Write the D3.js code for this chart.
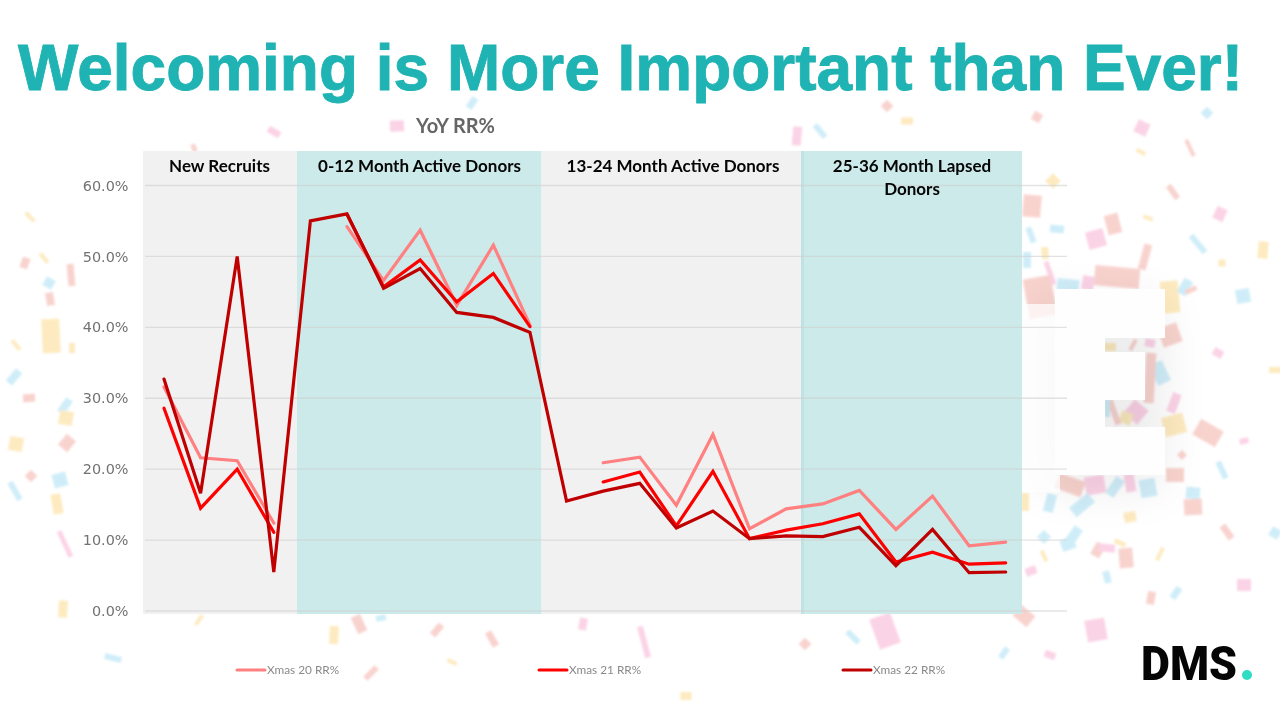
<!DOCTYPE html>
<html>
<head>
<meta charset="utf-8">
<script src="https://cdn.jsdelivr.net/npm/d3@7"></script>
<style>
  html, body { margin: 0; padding: 0; background: #fff; }
  svg { display: block; }
</style>
</head>
<body>
<svg id="chart" width="1280" height="720"></svg>
<script>
// 24 unlabelled points on the x axis
const categories = d3.range(24);
const xmas20 = [31.6, 21.6, 21.2, 12.4, null, 54.2, 46.6, 53.7, 43.1, 51.6, 40.3, null, 20.9, 21.7, 14.9, 24.9, 11.6, 14.4, 15.1, 17.0, 11.5, 16.2, 9.2, 9.7];
const xmas21 = [28.6, 14.5, 20.0, 11.1, null, 55.9, 45.7, 49.5, 43.6, 47.6, 40.1, null, 18.2, 19.6, 12.0, 19.7, 10.2, 11.4, 12.3, 13.7, 6.9, 8.3, 6.6, 6.8];
const xmas22 = [32.7, 16.6, 50.0, 5.5, 55.0, 56.0, 45.5, 48.3, 42.1, 41.4, 39.3, 15.5, 16.9, 18.0, 11.7, 14.1, 10.2, 10.6, 10.5, 11.8, 6.4, 11.5, 5.4, 5.5];
const seriesNames = ['Xmas 20 RR%', 'Xmas 21 RR%', 'Xmas 22 RR%'];
const seriesColors = ['#ff8080', '#ff0000', '#c00000'];
const yTicks = [0, 10, 20, 30, 40, 50, 60];
const panelLabels = [['New Recruits'], ['0-12 Month Active Donors'], ['13-24 Month Active Donors'], ['25-36 Month Lapsed', 'Donors']];

// background decoration: cx, cy, w, h, rotation, colour
const confetti = [
  [30,217,12,4,45,'y'],[25,263,8,11,20,'s'],[44,258,12,4,50,'y'],[49,283,10,10,30,'b'],[50,299,8,13,-10,'s'],
  [71,275,7,22,-5,'s'],[51,336,18,34,-3,'y'],[72,348,6,10,0,'y'],[16,345,12,4,50,'y'],[14,377,8,16,40,'b'],
  [29,398,12,8,-5,'s'],[65,406,8,16,35,'b'],[66,418,14,14,10,'y'],[16,444,14,14,10,'y'],[67,443,12,14,40,'s'],
  [31,476,9,9,45,'s'],[60,480,14,14,-15,'b'],[15,491,6,20,-30,'b'],[57,504,10,20,-10,'y'],[65,544,5,28,-25,'p'],
  [63,609,9,17,4,'y'],[113,658,17,6,15,'b'],[472,103,7,12,35,'b'],[397,126,14,11,-3,'p'],[274,132,13,7,30,'p'],
  [194,148,5,8,-20,'s'],[887,106,9,9,45,'s'],[907,121,12,7,0,'y'],[797,136,9,19,5,'p'],[820,131,6,16,-40,'b'],
  [1037,117,9,9,30,'s'],[1142,128,13,13,25,'p'],[1207,113,9,9,45,'b'],[1190,148,4,18,-25,'s'],[1141,152,10,4,30,'y'],
  [1053,181,11,11,45,'y'],[1173,192,6,16,-35,'s'],[1032,206,18,22,5,'s'],[1220,214,11,13,25,'p'],[1113,224,14,20,-15,'s'],
  [1096,239,18,18,-15,'p'],[1148,218,10,4,20,'y'],[1031,235,6,16,-20,'b'],[1057,229,14,8,5,'b'],[1045,253,7,12,-5,'y'],
  [1198,244,6,22,-40,'b'],[1263,250,10,17,5,'y'],[1222,263,7,7,0,'y'],[1145,257,8,26,15,'s'],[1027,260,8,16,0,'b'],
  [1243,296,14,14,-10,'b'],[1117,277,45,20,5,'s'],[1050,273,5,24,-20,'p'],[1068,285,22,12,5,'b'],[1088,283,12,14,10,'p'],
  [1040,297,28,40,-10,'s'],[1170,297,18,32,-5,'y'],[1185,287,10,16,30,'b'],[1191,290,12,5,-25,'s'],[1170,335,20,20,-20,'s'],
  [1218,353,10,8,30,'p'],[1275,370,12,6,0,'y'],[1160,373,14,22,-25,'b'],[1150,378,10,50,3,'s'],[1174,403,9,20,20,'p'],
  [1174,425,22,20,-15,'y'],[1208,433,26,18,30,'s'],[1244,441,9,6,-15,'p'],[1182,455,7,7,45,'s'],[1222,470,6,18,-25,'b'],
  [1175,475,18,14,0,'s'],[1193,493,14,12,5,'b'],[1193,507,18,16,-3,'s'],[1148,488,16,18,-10,'b'],[1130,483,10,18,-10,'p'],
  [1095,485,20,18,-10,'p'],[1115,487,10,20,35,'b'],[1070,485,28,16,20,'s'],[1082,505,12,24,50,'b'],[1050,503,10,18,15,'b'],
  [1130,517,12,10,-10,'y'],[1227,532,7,16,-35,'s'],[1275,533,10,10,30,'b'],[1072,538,10,24,35,'b'],[1044,537,10,10,45,'b'],
  [1025,502,8,18,0,'y'],[199,620,4,12,35,'y'],[334,635,9,18,3,'y'],[359,624,10,18,-25,'s'],[381,618,10,6,-10,'b'],
  [437,630,7,14,40,'s'],[492,639,7,16,-30,'s'],[371,673,6,16,45,'s'],[452,662,10,4,25,'y'],[583,624,8,12,10,'p'],
  [644,642,6,32,-15,'p'],[686,696,11,8,0,'y'],[805,644,9,9,45,'s'],[853,637,6,16,-45,'b'],[885,631,22,32,-20,'p'],
  [1024,616,18,14,40,'s'],[1004,653,6,12,35,'b'],[1050,655,11,7,20,'p'],[1096,630,20,22,-10,'p'],[1031,571,11,8,-20,'p'],
  [1044,556,4,12,-25,'y'],[1068,544,14,12,-20,'b'],[1098,550,10,14,30,'s'],[1107,548,16,8,5,'p'],[1126,558,14,20,-5,'s'],
  [1120,543,12,5,25,'y'],[1160,554,4,14,25,'y'],[1107,577,7,12,-15,'b'],[1151,598,8,13,10,'s'],[1176,593,7,13,35,'b'],
  [1244,585,14,12,0,'p'],
  // seen through the holes of the E
  [1110,347,12,8,0,'y'],[1150,343,10,8,10,'p'],[1133,345,4,12,30,'s'],[1136,412,18,18,40,'p'],[1126,418,12,12,20,'y'],
  [1114,412,6,26,-20,'s'],[1107,408,6,18,0,'b']
];
const confettiColors = { p: '#fbcde3', b: '#c9ebf8', s: '#f8cdc8', y: '#fde8b8' };

const svg = d3.select('#chart');
const defs = svg.append('defs');
defs.append('filter').attr('id', 'soft').append('feGaussianBlur').attr('stdDeviation', 0.8);
defs.append('filter').attr('id', 'lineSoft').append('feGaussianBlur').attr('stdDeviation', 0.35);
defs.append('filter').attr('id', 'shadow')
  .attr('x', '-50%').attr('y', '-50%').attr('width', '200%').attr('height', '200%')
  .append('feGaussianBlur').attr('stdDeviation', 24);

// confetti
svg.append('g').attr('filter', 'url(#soft)').attr('opacity', 0.88)
  .selectAll('rect').data(confetti).enter().append('rect')
  .attr('x', d => -d[2] / 2)
  .attr('y', d => -d[3] / 2)
  .attr('width', d => d[2])
  .attr('height', d => d[3])
  .attr('transform', d => `translate(${d[0]},${d[1]}) rotate(${d[4]})`)
  .attr('fill', d => confettiColors[d[5]]);

// big white E in the background
const logoBg = svg.append('g');
logoBg.append('rect').attr('x', 1040).attr('y', 300).attr('width', 125).attr('height', 190)
  .attr('fill', '#000').attr('opacity', 0.07).attr('filter', 'url(#shadow)');
logoBg.append('rect').attr('x', 1022).attr('y', 304).attr('width', 38).attr('height', 188).attr('fill', '#fefefe').attr('opacity', 0.75);
logoBg.append('path')
  .attr('d', 'M1055,289H1165V338H1105V352H1145V400H1105V427H1165V475H1055Z')
  .attr('fill', '#fefefe');

// title
svg.append('text')
  .attr('x', 18).attr('y', 90)
  .attr('font-family', 'Liberation Sans, Arial, sans-serif')
  .attr('font-weight', 700).attr('font-size', 64)
  .attr('fill', '#1fb3b3').attr('stroke', '#1fb3b3').attr('stroke-width', 0.9)
  .attr('textLength', 1225).attr('lengthAdjust', 'spacingAndGlyphs')
  .text('Welcoming is More Important than Ever!');

svg.append('text')
  .attr('x', 455.5).attr('y', 133).attr('text-anchor', 'middle')
  .attr('font-family', 'Lato, sans-serif').attr('font-weight', 700).attr('font-size', 20)
  .attr('fill', '#666')
  .text('YoY RR%');

// scales
const x = d3.scaleBand().domain(categories).range([145.7, 1024]);
const y = d3.scaleLinear().domain([0, 60]).range([611, 185.5]);
const px = i => x(i) + x.bandwidth() / 2;

// shaded panels
const panelEdges = [143, 297, 541.5, 801, 1022];
const panelFills = ['#f1f1f1', '#cbeae9', '#f1f1f1', '#cbeae9'];
svg.append('g').selectAll('rect').data(panelLabels).enter().append('rect')
  .attr('x', (d, i) => panelEdges[i])
  .attr('y', 151)
  .attr('width', (d, i) => panelEdges[i + 1] - panelEdges[i])
  .attr('height', 463)
  .attr('fill', (d, i) => panelFills[i]);
svg.append('rect').attr('x', 801).attr('y', 151).attr('width', 3).attr('height', 463).attr('fill', '#bfe2e2');

// gridlines
svg.append('g').selectAll('line').data(yTicks).enter().append('line')
  .attr('x1', 145).attr('x2', 1067)
  .attr('y1', d => y(d)).attr('y2', d => y(d))
  .attr('stroke', '#cfcfcf').attr('stroke-opacity', 0.6).attr('stroke-width', 1.3);

// y axis
const yAxis = d3.axisLeft(y).tickValues(yTicks).tickSize(0).tickPadding(0).tickFormat(d => d.toFixed(1) + '%');
const axisG = svg.append('g').attr('transform', 'translate(128.5,0)').call(yAxis);
axisG.select('.domain').remove();
axisG.selectAll('text')
  .attr('font-family', 'DejaVu Sans, sans-serif').attr('font-size', 14.4).attr('fill', '#727272');

// panel headings
const headingX = [219.5, 419.5, 673, 912];
const headings = svg.append('g').selectAll('text').data(panelLabels).enter().append('text')
  .attr('text-anchor', 'middle')
  .attr('font-family', 'Lato, sans-serif').attr('font-weight', 700).attr('font-size', 17)
  .attr('fill', '#050505');
headings.selectAll('tspan').data((d, i) => d.map(t => ({ t, i }))).enter().append('tspan')
  .attr('x', d => headingX[d.i])
  .attr('y', (d, j) => 172 + j * 23)
  .text(d => d.t);

// lines
const line = d3.line()
  .defined(d => d !== null)
  .x((d, i) => px(i))
  .y(d => y(d));
svg.append('g').attr('filter', 'url(#lineSoft)')
  .selectAll('path').data([xmas20, xmas21, xmas22]).enter().append('path')
  .attr('d', line)
  .attr('fill', 'none')
  .attr('stroke', (d, i) => seriesColors[i])
  .attr('stroke-width', 3.2)
  .attr('stroke-linecap', 'round')
  .attr('stroke-linejoin', 'miter');

// legend
const legendX = [237, 539, 843];
const legend = svg.append('g').selectAll('g').data(seriesNames).enter().append('g')
  .attr('transform', (d, i) => `translate(${legendX[i]},670)`);
legend.append('line').attr('x1', 0).attr('x2', 28)
  .attr('stroke', (d, i) => seriesColors[i]).attr('stroke-width', 3).attr('stroke-linecap', 'round');
legend.append('text').attr('x', 30).attr('y', 4)
  .attr('font-family', 'Lato, sans-serif').attr('font-size', 11.8).attr('fill', '#8a8a8a')
  .text(d => d);

// DMS logo
svg.append('text').attr('x', 1141).attr('y', 680)
  .attr('font-family', 'Roboto, sans-serif').attr('font-weight', 900).attr('font-size', 49)
  .attr('textLength', 96).attr('lengthAdjust', 'spacingAndGlyphs')
  .attr('fill', '#050505').text('DMS');
svg.append('circle').attr('cx', 1247).attr('cy', 675).attr('r', 5).attr('fill', '#2fdcc4');
</script>
</body>
</html>
